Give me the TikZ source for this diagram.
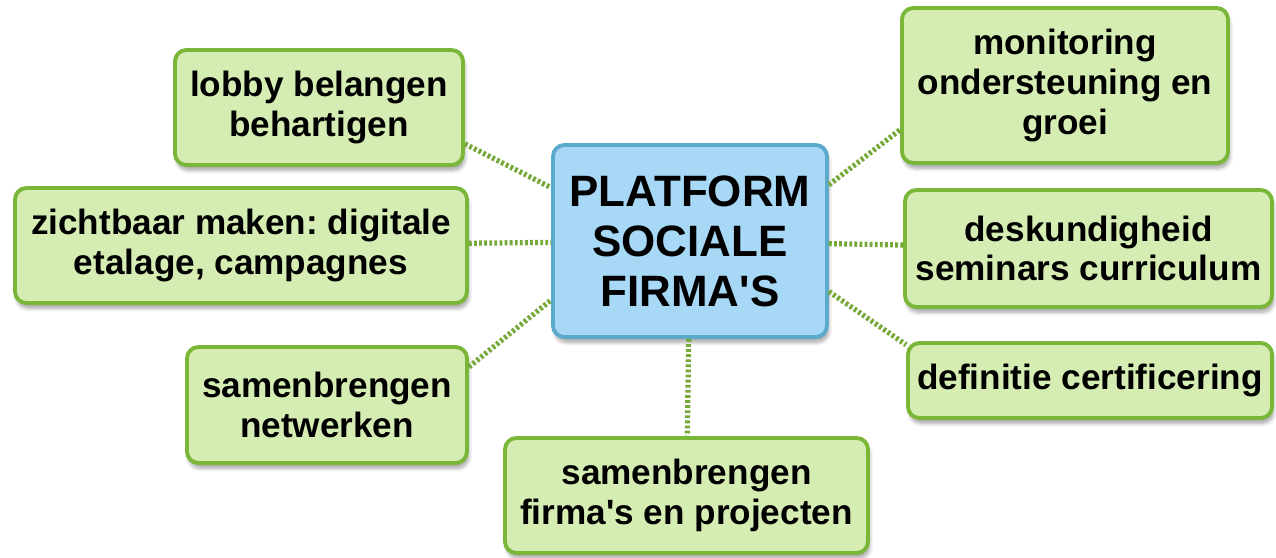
\documentclass[tikz,border=0pt]{standalone}
\usepackage{fontspec}
\setmainfont{Liberation Sans}
\usetikzlibrary{positioning, shadows.blur}
\definecolor{boxgreen}{HTML}{D5EDB3}
\definecolor{edgegreen}{HTML}{7AB638}
\definecolor{dotgreen}{HTML}{76A83A}
\definecolor{boxblue}{HTML}{A7D9F6}
\definecolor{edgeblue}{HTML}{5BAACB}
\frenchspacing
\begin{document}
\begin{tikzpicture}[
        box/.style={rectangle, rounded corners=6.5pt, draw=edgegreen, fill=boxgreen, line width=2.2pt, inner sep=0pt, align=center, font=\fontsize{20}{22.5}\selectfont\bfseries,
          blur shadow={shadow xshift=1pt, shadow yshift=-3pt, shadow blur steps=6, shadow opacity=35}},
        hub/.style={box, draw=edgeblue, fill=boxblue, font=\fontsize{25}{28.5}\selectfont\bfseries},
        link/.style={dotgreen, line width=3pt, dash pattern=on 1.6pt off 1.3pt}]
      \useasboundingbox (0,0) rectangle (25.52,-11.14);
      % Centre
      \node[hub, minimum width=5.48cm, minimum height=3.84cm] (platform) at (13.8,-4.82) {PLATFORM\\SOCIALE\\FIRMA\textquotesingle S};
      % Left side
      \node[box, minimum width=5.76cm, minimum height=2.3cm] (lobby) at (6.38,-2.15) {lobby belangen\\behartigen};
      \node[box, minimum width=9.04cm, minimum height=2.3cm] (zicht) at (4.82,-4.91) {zichtbaar maken: digitale\\etalage, campagnes};
      \node[box, minimum width=5.6cm, minimum height=2.32cm] (netwerk) at (6.54,-8.1) {samenbrengen\\netwerken};
      % Bottom
      \node[box, minimum width=7.26cm, minimum height=2.3cm] (projecten) at (13.73,-9.91) {samenbrengen\\firma\textquotesingle s en projecten};
      % Right side
      \node[box, minimum width=6.52cm, minimum height=3.1cm] (monitor) at (21.3,-1.71) {monitoring\\ondersteuning en\\groei};
      \node[box, minimum width=7.34cm, minimum height=2.34cm] (kennis) at (21.77,-4.97) {deskundigheid\\seminars curriculum};
      \node[box, minimum width=7.28cm, minimum height=1.5cm] (certif) at (21.8,-7.61) {definitie certificering};
      % Links
      \draw[link] (lobby.-14) -- (platform.159);
      \draw[link] (zicht) -- (platform);
      \draw[link] (netwerk.15) -- (platform.203);
      \draw[link] (platform) -- (projecten);
      \draw[link] (platform.22) -- (monitor.195);
      \draw[link] (platform) -- (kennis);
      \draw[link] (platform.-20) -- (certif.169);
    \end{tikzpicture}
\end{document}
